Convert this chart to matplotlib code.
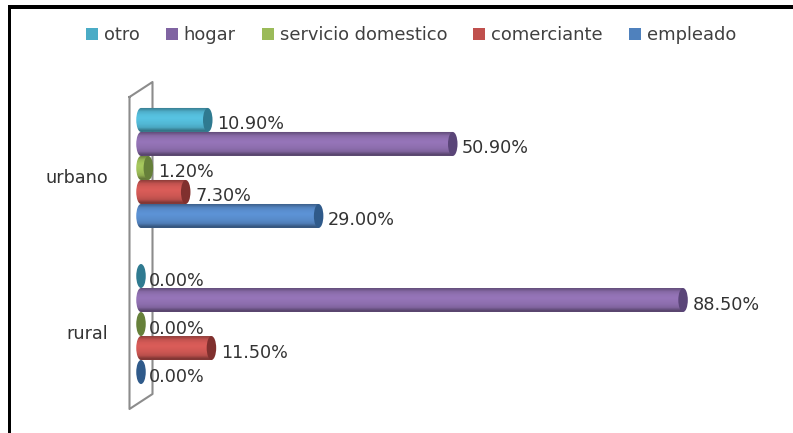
import numpy as np
import matplotlib
matplotlib.use("Agg")
import matplotlib.pyplot as plt
from matplotlib.patches import Ellipse, Rectangle, Patch
from matplotlib.path import Path
from matplotlib.lines import Line2D
from matplotlib.transforms import ScaledTranslation

categories = ["rural", "urbano"]
series = ["empleado", "comerciante", "servicio domestico", "hogar", "otro"]
empleado = [0.0, 29.0]
comerciante = [11.5, 7.3]
servicio = [0.0, 1.2]
hogar = [88.5, 50.9]
otro = [0.0, 10.9]
values = [empleado, comerciante, servicio, hogar, otro]
colors = ["#4F81BD", "#C0504D", "#9BBB59", "#8064A2", "#4BACC6"]
body = ["#5a8fd0", "#d45a56", "#a3c45c", "#9272b4", "#55bedc"]
caps = ["#2f5a8a", "#80302e", "#66803a", "#5a4578", "#2f7a90"]
labels_txt = "#333333"

W, H = 793, 433
fig = plt.figure(figsize=(W / 100, H / 100), dpi=100, facecolor="white")
px = lambda x0, y0, x1, y1: [x0 / W, 1 - y1 / H, (x1 - x0) / W, (y1 - y0) / H]
ax = fig.add_axes(px(134.875, 82, 753.5, 410))
ax.patch.set_alpha(0)
for s in ax.spines.values():
    s.set_visible(False)

# frame of the picture (left and top rules)
fig.add_artist(Rectangle((7.5 / W, 0), 3.5 / W, 1 - 5 / H, transform=fig.transFigure, color="black", lw=0))
fig.add_artist(Rectangle((7.5 / W, 1 - 8.5 / H), 1, 3.5 / H, transform=fig.transFigure, color="black", lw=0))

# 3D side wall, behind the bars
wall_x = [129.5, 152.5, 152.5, 129.5, 129.5]
wall_y = [97, 82, 394, 409, 97]
fig.add_artist(Line2D([x / W for x in wall_x], [1 - y / H for y in wall_y],
                      transform=fig.transFigure, color="#8c8c8c", lw=1.5, zorder=-1))

bar_h = 24 / 156
ew = 9.5 / 6.125
stops = np.array([0.70, 0.92, 1.0, 1.03, 1.0, 0.96, 0.88, 0.62])[:, None, None]
for i, (vals, col, cap) in enumerate(zip(values, body, caps)):
    rgb = np.array(matplotlib.colors.to_rgb(col))[None, None, :]
    grad = np.clip(stops * rgb, 0, 1)
    for j, v in enumerate(vals):
        y = j + (i - 2) * bar_h
        top, bot = y + bar_h / 2, y - bar_h / 2
        if v > 0:
            im = ax.imshow(grad, extent=(-ew / 2, v, bot, top), aspect="auto",
                           interpolation="bilinear", zorder=2 + j * 0.1 + i * 0.01)
            e = Ellipse((0, y), ew, bar_h)
            ell = e.get_patch_transform().transform_path(e.get_path())
            rect = Path([(0, bot), (v, bot), (v, top), (0, top), (0, bot)])
            im.set_clip_path(Path.make_compound_path(rect, ell), transform=ax.transData)
        ax.add_patch(Ellipse((v, y), ew, bar_h, facecolor=cap, edgecolor="none",
                             zorder=2.5 + j * 0.1 + i * 0.01))
        dx = 4.6 if v > 0 else 3.2
        ax.annotate(f"{v:.2f}%", (v, y), xytext=(ew / 2 * 6.125 * 0.72 + dx * 0.72, -4.5 * 0.72),
                    textcoords="offset points", ha="left", va="center",
                    fontsize=12.7, color=labels_txt, zorder=6)

ax.set_xlim(-1, 100)
ax.set_ylim(-0.551, 1.551)
ax.set_xticks([])
ax.set_yticks(range(len(categories)))
ax.set_yticklabels(categories, fontsize=12.7, color=labels_txt)
ax.tick_params(axis="y", length=0, pad=27 * 0.72)
for lab in ax.get_yticklabels():
    lab.set_transform(lab.get_transform() + ScaledTranslation(0, -8 / 100, fig.dpi_scale_trans))

handles = [Patch(facecolor=c, edgecolor="none") for c in colors[::-1]]
leg = fig.legend(handles, series[::-1], ncol=5, loc="center", bbox_to_anchor=(411 / W, 1 - 35.5 / H),
                 frameon=False, fontsize=12.9, labelcolor="#404040", handlelength=0.67, handleheight=0.67,
                 handletextpad=0.33, columnspacing=1.45, borderpad=0, borderaxespad=0)

fig.savefig("out.png", dpi=100, facecolor="white")
